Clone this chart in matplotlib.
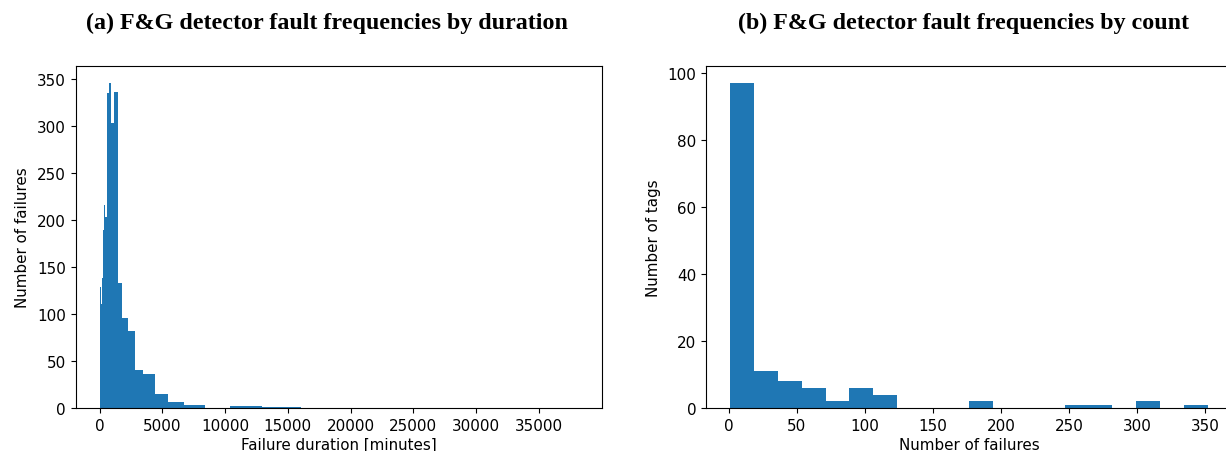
import numpy as np
import matplotlib
matplotlib.use('Agg')
import matplotlib.pyplot as plt

# (a) failure durations, bin edges [minutes] and counts
dur_edges = [0, 70, 110, 170, 253, 350, 470, 600, 754, 939, 1169, 1456, 1812,
             2256, 2809, 3474, 4406, 5445, 6749, 8400, 10423, 12979, 16040,
             19970, 24860, 30950, 38100]
dur_counts = [74, 129, 111, 138, 189, 216, 203, 335, 346, 303, 336, 133, 96,
              82, 40, 36, 15, 6, 3, 0, 2, 1, 0, 0, 0, 0]

# (b) failures per tag, 20 equal bins between 1 and 352
cnt_edges = np.linspace(1, 352, 21)
cnt_counts = [97, 11, 8, 6, 2, 6, 4, 0, 0, 0, 2, 0, 0, 0, 1, 1, 0, 2, 0, 1]

plt.rcParams['font.size'] = 10.9

fig = plt.figure(figsize=(12.26, 4.52), dpi=100)
ax1 = fig.add_axes([0.0617, 0.0951, 0.429, 0.756])
ax2 = fig.add_axes([0.5759, 0.0951, 0.429, 0.756])

ax1.hist(dur_edges[:-1], bins=dur_edges, weights=dur_counts, color='C0')
ax1.set_xlabel('Failure duration [minutes]', labelpad=3)
ax1.set_ylabel('Number of failures', labelpad=5)
ax1.set_xticks(range(0, 40000, 5000))

ax2.hist(cnt_edges[:-1], bins=cnt_edges, weights=cnt_counts, color='C0')
ax2.set_xlabel('Number of failures', labelpad=3)
ax2.set_ylabel('Number of tags', labelpad=5)
ax2.set_yticks([0, 20, 40, 60, 80, 100])

title_font = dict(family='Liberation Serif', weight='bold', fontsize=17.3,
                  ha='center', va='baseline')
fig.text(0.267, 0.936, '(a) F&G detector fault frequencies by duration', **title_font)
fig.text(0.786, 0.936, '(b) F&G detector fault frequencies by count', **title_font)

fig.savefig('out.png', dpi=100)
